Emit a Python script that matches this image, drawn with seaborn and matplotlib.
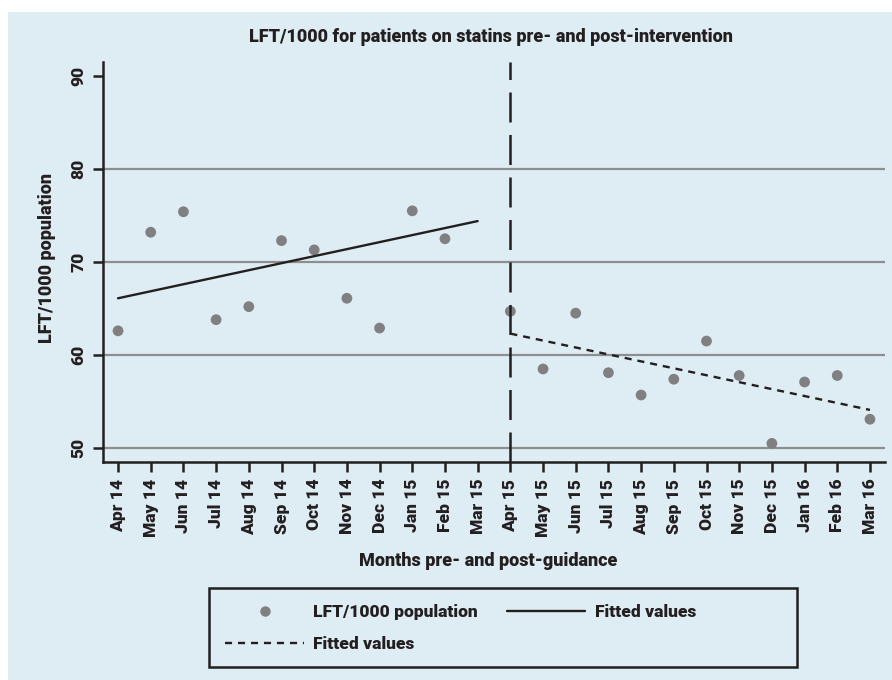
import matplotlib
matplotlib.use("Agg")
import matplotlib.pyplot as plt
import seaborn as sns
import numpy as np
import pandas as pd
from matplotlib.lines import Line2D
from matplotlib.patches import Rectangle

# data
months = ["Apr 14", "May 14", "Jun 14", "Jul 14", "Aug 14", "Sep 14", "Oct 14",
          "Nov 14", "Dec 14", "Jan 15", "Feb 15", "Mar 15",
          "Apr 15", "May 15", "Jun 15", "Jul 15", "Aug 15", "Sep 15", "Oct 15",
          "Nov 15", "Dec 15", "Jan 16", "Feb 16", "Mar 16"]
lft = [62.6, 73.2, 75.4, 63.8, 65.2, 72.3, 71.3, 66.1, 62.9, 75.5, 72.5, np.nan,
       64.7, 58.5, 64.5, 58.1, 55.7, 57.4, 61.5, 57.8, 50.5, 57.1, 57.8, 53.1]
fit_pre_months = ["Apr 14", "Mar 15"]
fit_pre = [66.1, 74.4]
fit_post_months = ["Apr 15", "Mar 16"]
fit_post = [62.3, 54.1]
intervention = "Apr 15"
yticks = [50, 60, 70, 80, 90]
gridlines = [50, 60, 70, 80]

bg = "#deecf4"
ink = "#231f20"
dot = "#808082"
fs = 12.5

sns.set_style("ticks")
plt.rcParams["font.family"] = ["Roboto", "DejaVu Sans"]
plt.rcParams["font.weight"] = "bold"

df = pd.DataFrame({"month": months, "lft": lft})
df["pos"] = range(len(months))
pos = dict(zip(months, range(len(months))))
pre = pd.DataFrame({"pos": [pos[m] for m in fit_pre_months], "fit": fit_pre})
post = pd.DataFrame({"pos": [pos[m] for m in fit_post_months], "fit": fit_post})

W, H = 892, 680
fig = plt.figure(figsize=(W / 100, H / 100), dpi=100, facecolor="white")
fig.patches.append(Rectangle((8 / W, 0), 1 - 8 / W, 1 - 12 / H, transform=fig.transFigure,
                             facecolor=bg, edgecolor="none", zorder=-10))
# legend frame
fig.patches.append(Rectangle((209 / W, 1 - 667 / H), 588 / W, 79 / H, transform=fig.transFigure,
                             facecolor="none", edgecolor=ink, lw=1.8, zorder=5))
ax = fig.add_axes([103 / W, 1 - 462 / H, (885 - 103) / W, (462 - 62) / H])
ax.set_facecolor(bg)

for g in gridlines:
    ax.axhline(g, color="#8e8e90", lw=1.6, zorder=0)

sns.scatterplot(data=df, x="pos", y="lft", ax=ax, color=dot, s=60,
                edgecolor="none", zorder=3, legend=False)
sns.lineplot(data=pre, x="pos", y="fit", ax=ax, color=ink, lw=1.7, zorder=4)
sns.lineplot(data=post, x="pos", y="fit", ax=ax, color=ink, lw=1.7,
             linestyle=(0, (3, 2.5)), zorder=4)
ax.axvline(pos[intervention], color=ink, lw=1.8, linestyle=(0, (12, 5)), zorder=5)

ax.set_xlim(-0.46, 23.46)
ax.set_ylim(48.5, 91.5)
ax.set_xticks(range(len(months)))
ax.set_xticklabels(months, rotation=90, fontsize=fs, color=ink, fontweight="black")
ax.set_yticks(yticks)
ax.set_yticklabels([str(t) for t in yticks], rotation=90, va="center",
                   fontsize=fs, color=ink, fontweight="black")
ax.tick_params(axis="both", length=7, width=1.8, color=ink, pad=5)
for s in ["left", "bottom"]:
    ax.spines[s].set_linewidth(1.8)
    ax.spines[s].set_color(ink)
sns.despine(ax=ax)
ax.set_xlabel("")
ax.set_ylabel("")

fig.text(491 / W, 1 - 37 / H, "LFT/1000 for patients on statins pre- and post-intervention",
         ha="center", va="center", fontsize=13, fontweight="black", color=ink)
fig.text(488 / W, 1 - 561 / H, "Months pre- and post-guidance",
         ha="center", va="center", fontsize=13, fontweight="black", color=ink)
fig.text(47 / W, 1 - 258 / H, "LFT/1000 population", rotation=90,
         ha="center", va="center", fontsize=13, fontweight="black", color=ink)

handles = [
    Line2D([], [], marker="o", ls="none", color=dot, markersize=7.5, markeredgewidth=0),
    Line2D([], [], color=ink, lw=1.7, linestyle=(0, (3, 2.5))),
    Line2D([], [], color=ink, lw=1.7),
]
labels = ["LFT/1000 population", "Fitted values", "Fitted values"]
leg = fig.legend(handles, labels, ncol=2, loc="upper left",
                 bbox_to_anchor=(209 / W, 1 - 588 / H),
                 bbox_transform=fig.transFigure, frameon=False,
                 handlelength=4.5, handletextpad=0.55, columnspacing=1.7,
                 borderpad=0.95, borderaxespad=0, labelspacing=0.9,
                 prop={"weight": "black", "size": fs})
for t in leg.get_texts():
    t.set_color(ink)

fig.savefig("out.png", dpi=100, facecolor="white")
